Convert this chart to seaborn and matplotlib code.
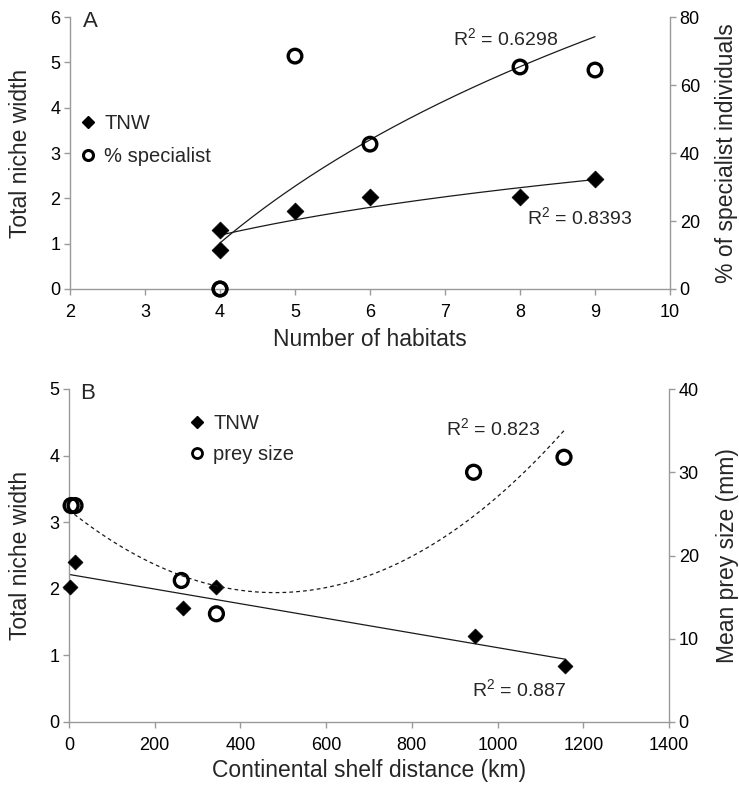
import numpy as np
import matplotlib
matplotlib.use("Agg")
import matplotlib.pyplot as plt
from matplotlib.lines import Line2D
import seaborn as sns

sns.set_theme(style="ticks")
plt.rcParams['font.family'] = ['Liberation Sans', 'DejaVu Sans']
plt.rcParams['mathtext.default'] = 'regular'

# ---- panel A: number of habitats ----
habitats = [4, 4, 5, 6, 8, 9]
tnw_a = [1.30, 0.85, 1.72, 2.03, 2.02, 2.43]
pct_specialist = [0, 0, 68.5, 42.6, 65.3, 64.4]

# ---- panel B: continental shelf distance ----
shelf_tnw = [2, 14, 267, 344, 948, 1158]
tnw_b = [2.03, 2.40, 1.71, 2.02, 1.29, 0.84]
shelf_prey = [5, 14, 262, 344, 944, 1155]
prey_size = [26.0, 26.0, 17.0, 13.0, 30.0, 31.8]

r2_labels = ['R$^2$ = 0.6298', 'R$^2$ = 0.8393', 'R$^2$ = 0.823', 'R$^2$ = 0.887']

SPINE = '#9a9a9a'
W, H = 739, 785
fig = plt.figure(figsize=(W / 100, H / 100), dpi=100)


def style_axes(ax, twin):
    ax.spines['top'].set_visible(False)
    ax.spines['right'].set_visible(False)
    for s in ('left', 'bottom'):
        ax.spines[s].set_color(SPINE)
        ax.spines[s].set_linewidth(1)
    twin.spines['top'].set_visible(False)
    twin.spines['left'].set_visible(False)
    twin.spines['bottom'].set_visible(False)
    twin.spines['right'].set_color(SPINE)
    twin.spines['right'].set_linewidth(1)
    for a in (ax, twin):
        a.tick_params(direction='out', length=4, width=1, color=SPINE,
                      labelsize=13, labelcolor='black', pad=3)
        a.grid(False)
    ax.tick_params(axis='x', pad=6.5)


# ================= A =================
axA = fig.add_axes([70 / W, 1 - 289 / H, 600 / W, 272 / H])
axA2 = axA.twinx()
style_axes(axA, axA2)

# log trend lines (Excel style)
xa = np.linspace(min(habitats), max(habitats), 200)
ca = np.polyfit(np.log(habitats), tnw_a, 1)
cs = np.polyfit(np.log(habitats), pct_specialist, 1)
sns.lineplot(x=xa, y=np.polyval(ca, np.log(xa)), ax=axA, color='#1a1a1a', lw=0.9)
sns.lineplot(x=xa, y=np.polyval(cs, np.log(xa)), ax=axA2, color='#1a1a1a', lw=0.9)

sns.scatterplot(x=habitats, y=tnw_a, ax=axA, marker='D', s=74, color='black',
                edgecolor='black', linewidth=0.5, zorder=3, clip_on=False)
sns.scatterplot(x=habitats, y=pct_specialist, ax=axA2, marker='o', s=96,
                facecolor='none', edgecolor='black', linewidth=2.4, zorder=3,
                clip_on=False)

axA.set_xlim(2, 10)
axA.set_ylim(0, 6)
axA2.set_ylim(0, 80)
axA.set_xticks(range(2, 11))
axA.set_yticks(range(0, 7))
axA2.set_yticks(range(0, 81, 20))

axA.set_xlabel('Number of habitats', fontsize=16.5, va='center')
axA.xaxis.set_label_coords(0.5, (289 - 340) / 272)
axA.set_ylabel('Total niche width', fontsize=16.5, va='center')
axA.yaxis.set_label_coords((21 - 70) / 600, 0.5)
axA2.set_ylabel('% of specialist individuals', fontsize=16.5, va='center', rotation=90)
axA2.yaxis.set_label_coords((726 - 70) / 600, 0.5)

axA.text(0.0217, 0.982, 'A', transform=axA.transAxes, fontsize=16, va='center', ha='left')
axA.text(7.11, 5.54, r2_labels[0], fontsize=14, va='center', ha='left')
axA.text(8.09, 1.59, r2_labels[1], fontsize=14, va='center', ha='left')

hA = [Line2D([0], [0], marker='D', ls='none', color='black', ms=6.1),
      Line2D([0], [0], marker='o', ls='none', mfc='none', mec='black', mew=2.2, ms=7.2)]
axA2.legend(hA, ['TNW', '% specialist'], loc='upper left',
            bbox_to_anchor=((78 - 70) / 600, (289 - 114) / 272), frameon=False,
            fontsize=14.5, borderpad=0, borderaxespad=0, handlelength=1.0,
            handletextpad=0.3, labelspacing=0.72)

# ================= B =================
axB = fig.add_axes([69 / W, 1 - 722 / H, 600 / W, 333 / H])
axB2 = axB.twinx()
style_axes(axB, axB2)

xb = np.linspace(0, max(shelf_tnw), 200)
cb = np.polyfit(shelf_tnw, tnw_b, 1)
cp = np.polyfit(shelf_prey, prey_size, 2)
sns.lineplot(x=xb, y=np.polyval(cb, xb), ax=axB, color='#1a1a1a', lw=0.9)
sns.lineplot(x=xb, y=np.polyval(cp, xb), ax=axB2, color='#1a1a1a', lw=0.9,
             linestyle=(0, (3, 2.5)))

sns.scatterplot(x=shelf_tnw, y=tnw_b, ax=axB, marker='D', s=58, color='black',
                edgecolor='black', linewidth=0.5, zorder=3, clip_on=False)
sns.scatterplot(x=shelf_prey, y=prey_size, ax=axB2, marker='o', s=100,
                facecolor='none', edgecolor='black', linewidth=2.4, zorder=3,
                clip_on=False)

axB.set_xlim(0, 1400)
axB.set_ylim(0, 5)
axB2.set_ylim(0, 40)
axB.set_xticks(range(0, 1401, 200))
axB.set_yticks(range(0, 6))
axB2.set_yticks(range(0, 41, 10))

axB.set_xlabel('Continental shelf distance (km)', fontsize=16.5, va='center')
axB.xaxis.set_label_coords(0.5, (722 - 771) / 333)
axB.set_ylabel('Total niche width', fontsize=16.5, va='center')
axB.yaxis.set_label_coords((21 - 69) / 600, 0.5)
axB2.set_ylabel('Mean prey size (mm)', fontsize=16.5, va='center', rotation=90)
axB2.yaxis.set_label_coords((727 - 69) / 600, 0.5)

axB.text(0.0183, 0.985, 'B', transform=axB.transAxes, fontsize=16, va='center', ha='left')
axB.text(880, 4.41, r2_labels[2], fontsize=14, va='center', ha='left')
axB.text(940, 0.50, r2_labels[3], fontsize=14, va='center', ha='left')

hB = [Line2D([0], [0], marker='D', ls='none', color='black', ms=6.1),
      Line2D([0], [0], marker='o', ls='none', mfc='none', mec='black', mew=2.0, ms=7.2)]
axB2.legend(hB, ['TNW', 'prey size'], loc='upper left',
            bbox_to_anchor=((187 - 69) / 600, (722 - 414) / 333), frameon=False,
            fontsize=14.5, borderpad=0, borderaxespad=0, handlelength=1.0,
            handletextpad=0.3, labelspacing=0.6)

fig.savefig('out.png', dpi=100)
